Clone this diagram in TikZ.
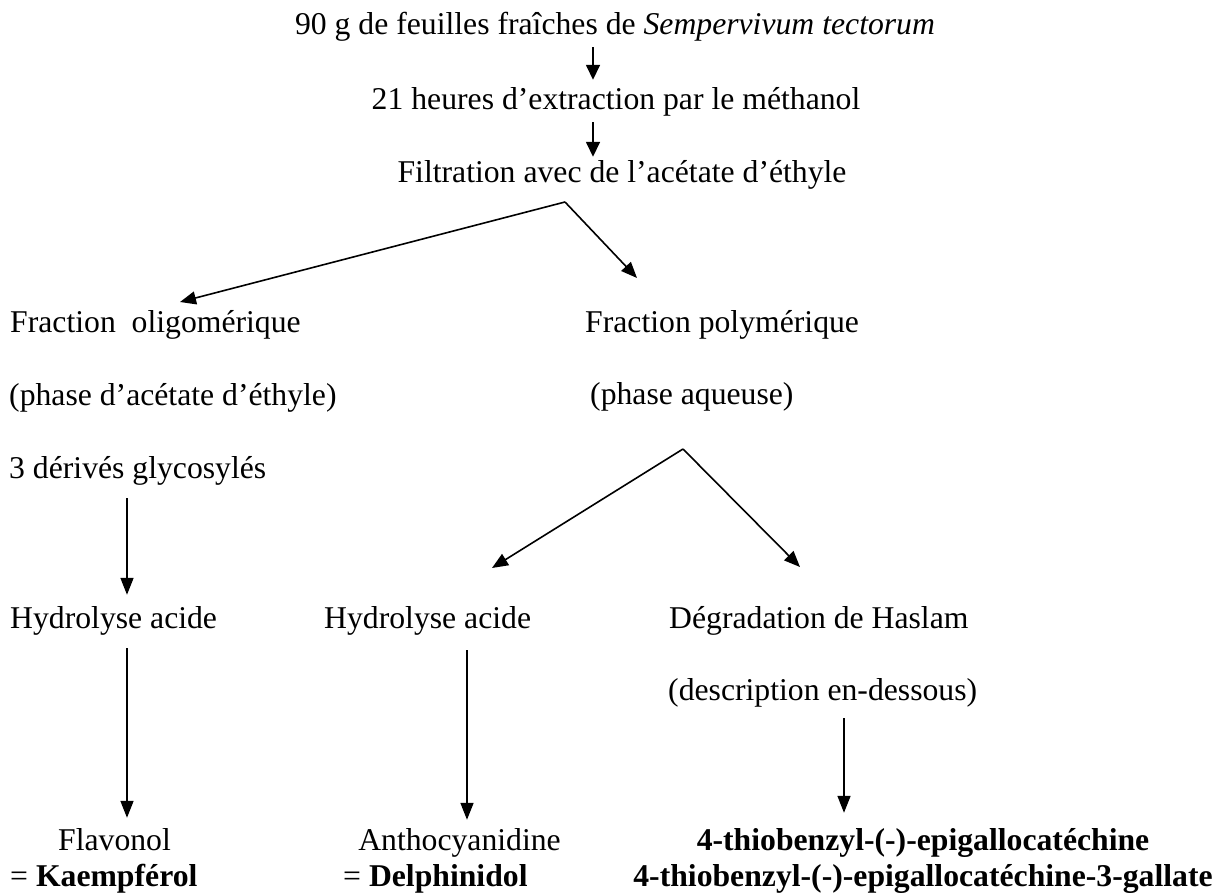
\documentclass[tikz,border=0pt]{standalone}
\usepackage{fontspec}
\setmainfont{Liberation Serif}
\usetikzlibrary{arrows.meta}
\begin{document}
\begin{tikzpicture}[x=1pt,y=-1pt,
  txt/.style={inner sep=0pt, text height=22pt, text depth=7pt, font=\fontsize{31.7}{36}\selectfont},
  arr/.style={line width=1.6pt, -{Triangle[length=16pt,width=13pt]}},
  darr/.style={line width=1.6pt, -{Triangle[length=17pt,width=13pt]}}]
\useasboundingbox (0,0) rectangle (1218,893);

% text nodes
\node[txt, anchor=base] (l1) at (615,35) {90 g de feuilles fraîches de \textit{Sempervivum tectorum}};
\node[txt, anchor=base] (l2) at (616,110) {21 heures d’extraction par le méthanol};
\node[txt, anchor=base] (l3) at (622,183) {Filtration avec de l’acétate d’éthyle};
\node[txt, anchor=base west] (fo) at (10,332) {Fraction\ \ oligomérique};
\node[txt, anchor=base west] (fp) at (585,332) {Fraction polymérique};
\node[txt, anchor=base west] (pe) at (9,405) {(phase d’acétate d’éthyle)};
\node[txt, anchor=base west] (pa) at (590,404) {(phase aqueuse)};
\node[txt, anchor=base west] (dg) at (9,478) {3 dérivés glycosylés};
\node[txt, anchor=base west] (h1) at (10,628) {Hydrolyse acide};
\node[txt, anchor=base west] (h2) at (324,628) {Hydrolyse acide};
\node[txt, anchor=base west] (dh) at (669,628) {Dégradation de Haslam};
\node[txt, anchor=base west] (de) at (668,700) {(description en-dessous)};
\node[txt, anchor=base] (fl) at (114.5,850) {Flavonol};
\node[txt, anchor=base west] (ka) at (10,886) {= \textbf{Kaempférol}};
\node[txt, anchor=base] (an) at (459.5,850) {Anthocyanidine};
\node[txt, anchor=base west] (dp) at (343,886) {= \textbf{Delphinidol}};
\node[txt, anchor=base] (t1) at (923,850) {\textbf{4-thiobenzyl-(-)-epigallocatéchine}};
\node[txt, anchor=base] (t2) at (923,886) {\textbf{4-thiobenzyl-(-)-epigallocatéchine-3-gallate}};

% helper coordinates
\coordinate (xa) at (593,0);
\coordinate (xv1) at (127,0);
\coordinate (xv3) at (467,0);
\coordinate (xv4) at (844,0);
\coordinate (ap1) at (565,202);
\coordinate (tp1) at (180,302);
\coordinate (tp2) at (637,278);
\coordinate (ap2) at (683,449);
\coordinate (tp3) at (492,568);
\coordinate (tp4) at (800,567);

% vertical arrows at top
\draw[arr, -{Triangle[length=15pt,width=14pt]}, shorten <=5pt, shorten >=8pt] (l1.south -| xa) -- (l2.north -| xa);
\draw[arr, -{Triangle[length=15pt,width=14pt]}, shorten <=5pt, shorten >=4pt] (l2.south -| xa) -- (l3.north -| xa);

% branches
\draw[arr] (ap1) -- (tp1);
\draw[arr] (ap1) -- (tp2);
\draw[arr] (ap2) -- (tp3);
\draw[arr] (ap2) -- (tp4);

% lower vertical arrows
\draw[darr, shorten <=13pt, shorten >=11pt] (dg.south -| xv1) -- (h1.north -| xv1);
\draw[darr, shorten <=13pt, shorten >=10pt] (h1.south -| xv1) -- (fl.north -| xv1);
\draw[darr, shorten <=15pt, shorten >=8pt] (h2.south -| xv3) -- (an.north -| xv3);
\draw[darr, shorten <=11pt, shorten >=15pt] (de.south -| xv4) -- (t1.north -| xv4);
\end{tikzpicture}
\end{document}
